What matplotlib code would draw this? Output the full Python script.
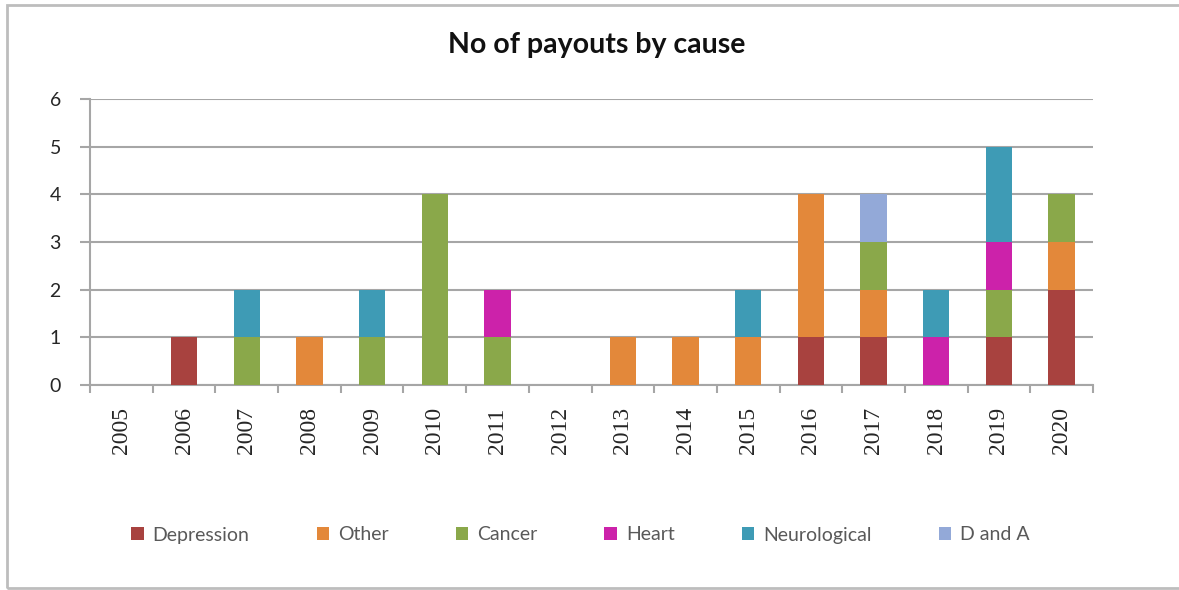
import numpy as np
import matplotlib
matplotlib.use('Agg')
import matplotlib.pyplot as plt
from matplotlib.patches import Rectangle

years = [str(y) for y in range(2005, 2021)]
causes = ['Depression', 'Other', 'Cancer', 'Heart', 'Neurological', 'D and A']
colors = ['#A8423F', '#E3883A', '#8AA84A', '#CC22AA', '#3E9BB5', '#93A9D8']

depression   = [0, 1, 0, 0, 0, 0, 0, 0, 0, 0, 0, 1, 1, 0, 1, 2]
other        = [0, 0, 0, 1, 0, 0, 0, 0, 1, 1, 1, 3, 1, 0, 0, 1]
cancer       = [0, 0, 1, 0, 1, 4, 1, 0, 0, 0, 0, 0, 1, 0, 1, 1]
heart        = [0, 0, 0, 0, 0, 0, 1, 0, 0, 0, 0, 0, 0, 1, 1, 0]
neurological = [0, 0, 1, 0, 1, 0, 0, 0, 0, 0, 1, 0, 0, 1, 2, 0]
d_and_a      = [0, 0, 0, 0, 0, 0, 0, 0, 0, 0, 0, 0, 1, 0, 0, 0]
series = [depression, other, cancer, heart, neurological, d_and_a]

fig = plt.figure(figsize=(11.79, 5.9), dpi=100)
fig.patches.append(Rectangle((0.006, 0.004), 1.2, 0.988, transform=fig.transFigure,
                             fill=False, edgecolor='#BDBDBD', linewidth=2))

ax = fig.add_axes([90 / 1179, 1 - 385 / 590, (1093 - 90) / 1179, (385 - 99) / 590])
x = np.arange(len(years))
bottom = np.zeros(len(years))
for name, vals, c in zip(causes, series, colors):
    ax.bar(x, vals, bottom=bottom, width=0.42, color=c, label=name, zorder=3)
    bottom += np.array(vals)

ax.set_xlim(-0.5, len(years) - 0.5)
ax.set_ylim(0, 6)
ax.set_yticks(range(7))
ax.yaxis.grid(True, color='#A6A6A6', linewidth=1.5, zorder=0)
for s in ['top', 'right']:
    ax.spines[s].set_visible(False)
for s in ['left', 'bottom']:
    ax.spines[s].set_color('#A6A6A6')
    ax.spines[s].set_linewidth(1.5)

ax.set_xticks(x)
ax.set_xticklabels(years, rotation=90, family='Liberation Serif', fontsize=17, color='#262626')
ax.tick_params(axis='x', length=0, pad=16)
ax.set_xticks(np.arange(-0.5, len(years)), minor=True)
ax.tick_params(axis='x', which='minor', length=6, width=1.5, color='#A6A6A6')
ax.tick_params(axis='y', length=7, width=1.5, color='#A6A6A6', pad=14,
               labelsize=14, labelcolor='#262626')
for lab in ax.get_yticklabels():
    lab.set_family('Lato')

fig.text(0.506, 1 - 45 / 590, 'No of payouts by cause', ha='center', va='center',
         fontsize=20.5, family='Lato', weight='bold', color='#111111')

leg = ax.legend(loc='center', bbox_to_anchor=(0.489, -(535 - 385) / 286), ncol=6,
                frameon=False, handlelength=0.65, handleheight=0.65, handletextpad=0.45,
                columnspacing=3.45, prop={'family': 'Lato', 'size': 14})
for t in leg.get_texts():
    t.set_color('#595959')

fig.savefig('out.png', dpi=100)
